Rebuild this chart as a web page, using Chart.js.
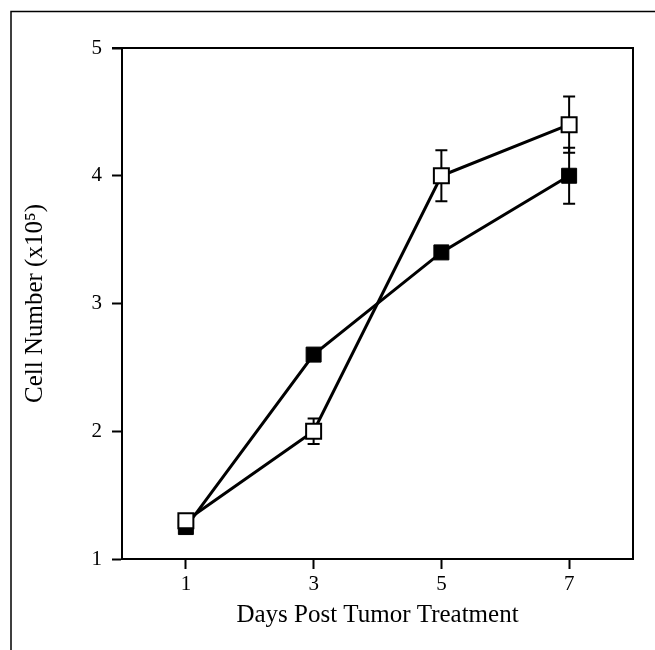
<!DOCTYPE html>
<html>
<head>
<meta charset="utf-8">
<script src="https://cdn.jsdelivr.net/npm/chart.js@4/dist/chart.umd.min.js"></script>
<style>
  html, body { margin: 0; padding: 0; background: #fff; }
  #wrap { width: 655px; height: 650px; position: relative; }
</style>
</head>
<body>
<div id="wrap"><canvas id="cellChart"></canvas></div>
<script>
// days post treatment
const days = [1, 3, 5, 7];
const xTicks = [1, 3, 5, 7];
const yTicks = [1, 2, 3, 4, 5];

// cell number (x10^5)
const openValues = [1.3, 2.0, 4.0, 4.4];
const openErrors = [0, 0.1, 0.2, 0.22];
const filledValues = [1.25, 2.6, 3.4, 4.0];
const filledErrors = [0, 0, 0, 0.22];

const serif = "'Liberation Serif', 'Times New Roman', serif";

const toPoints = (vals) => days.map((d, i) => ({ x: d, y: vals[i] }));

// error bars, drawn under the markers
const errorBars = {
  id: 'errorBars',
  beforeDatasetsDraw(chart) {
    const { ctx, scales } = chart;
    ctx.save();
    ctx.strokeStyle = '#000';
    ctx.lineWidth = 2;
    chart.data.datasets.forEach((ds) => {
      ds.data.forEach((p, i) => {
        const e = ds.errors[i];
        if (!e) return;
        const x = scales.x.getPixelForValue(p.x);
        const top = scales.y.getPixelForValue(p.y + e);
        const bot = scales.y.getPixelForValue(p.y - e);
        ctx.beginPath();
        ctx.moveTo(x, top); ctx.lineTo(x, bot);
        ctx.moveTo(x - 6, top); ctx.lineTo(x + 6, top);
        ctx.moveTo(x - 6, bot); ctx.lineTo(x + 6, bot);
        ctx.stroke();
      });
    });
    ctx.restore();
  }
};

// page frame and top/right sides of the plot box
const frame = {
  id: 'frame',
  beforeDraw(chart) {
    const { ctx } = chart;
    ctx.save();
    ctx.strokeStyle = '#000';
    ctx.lineWidth = 1.5;
    ctx.beginPath();
    ctx.moveTo(11, 650); ctx.lineTo(11, 11.5); ctx.lineTo(655, 11.5);
    ctx.stroke();
    ctx.restore();
  },
  afterDraw(chart) {
    const { ctx, chartArea: a } = chart;
    ctx.save();
    ctx.strokeStyle = '#000';
    ctx.lineWidth = 2;
    ctx.beginPath();
    ctx.moveTo(a.left - 10, a.top); ctx.lineTo(a.right, a.top); ctx.lineTo(a.right, a.bottom);
    ctx.stroke();
    ctx.restore();
  }
};

new Chart(document.getElementById('cellChart'), {
  type: 'line',
  data: {
    datasets: [
      {
        label: 'Open',
        data: toPoints(openValues),
        errors: openErrors,
        borderColor: '#000',
        borderWidth: 3,
        pointStyle: 'rect',
        pointRadius: 10.6,
        pointBorderWidth: 2,
        pointBorderColor: '#000',
        pointBackgroundColor: '#fff',
        tension: 0
      },
      {
        label: 'Filled',
        data: toPoints(filledValues),
        errors: filledErrors,
        borderColor: '#000',
        borderWidth: 3,
        pointStyle: 'rect',
        pointRadius: 10.6,
        pointBorderWidth: 1,
        pointBorderColor: '#000',
        pointBackgroundColor: '#000',
        tension: 0
      }
    ]
  },
  options: {
    responsive: true,
    maintainAspectRatio: false,
    animation: false,
    layout: { padding: { top: 48, right: 22, left: 0, bottom: 0 } },
    plugins: {
      legend: { display: false },
      tooltip: { enabled: false }
    },
    scales: {
      x: {
        type: 'linear',
        min: 0,
        max: 8,
        afterBuildTicks(axis) { axis.ticks = xTicks.map((v) => ({ value: v })); },
        afterFit(axis) { axis.height = 91; },
        grid: { drawOnChartArea: false, drawTicks: true, tickLength: 10, tickWidth: 2, tickColor: '#000' },
        border: { display: true, color: '#000', width: 2 },
        ticks: { color: '#000', padding: 3, font: { family: serif, size: 21 }, maxRotation: 0 },
        title: {
          display: true,
          text: 'Days Post Tumor Treatment',
          color: '#000',
          font: { family: serif, size: 25 },
          padding: { top: 20, bottom: 20 }
        }
      },
      y: {
        min: 1,
        max: 5,
        afterBuildTicks(axis) { axis.ticks = yTicks.map((v) => ({ value: v })); },
        afterFit(axis) { axis.width = 122; },
        grid: { drawOnChartArea: false, drawTicks: true, tickLength: 10, tickWidth: 2, tickColor: '#000' },
        border: { display: true, color: '#000', width: 2 },
        ticks: { color: '#000', padding: 10, font: { family: serif, size: 21 } },
        title: {
          display: true,
          text: 'Cell Number (x10\u2075)',
          color: '#000',
          font: { family: serif, size: 25 },
          padding: { top: 20, bottom: 20 }
        }
      }
    }
  },
  plugins: [errorBars, frame]
});
</script>
</body>
</html>
